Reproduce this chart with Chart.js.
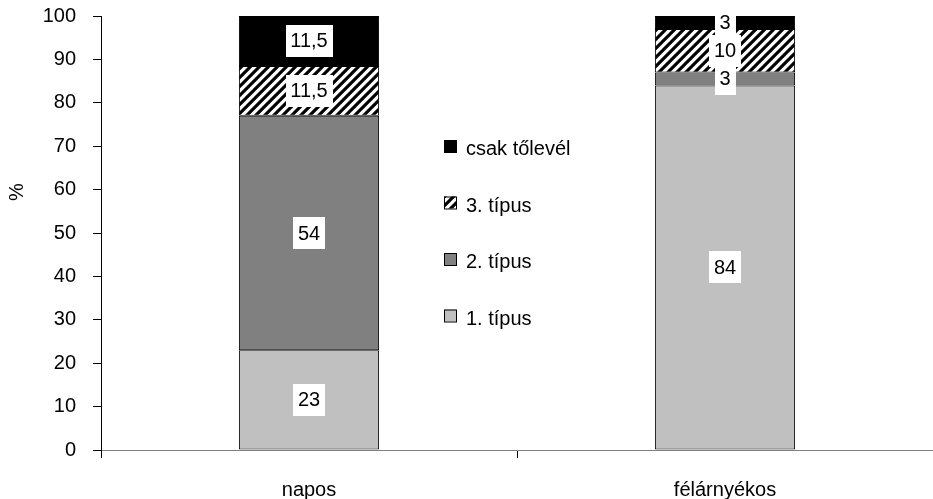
<!DOCTYPE html>
<html>
<head>
<meta charset="utf-8">
<script src="https://cdn.jsdelivr.net/npm/chart.js@4/dist/chart.umd.min.js"></script>
<style>
  html, body { margin: 0; padding: 0; background: #fff; }
</style>
</head>
<body>
<canvas id="chart" width="933" height="499"></canvas>
<script>
// Kategóriák és sorozatok (%)
const categories = ['napos', 'félárnyékos'];
const tipus1 = [23, 84];
const tipus2 = [54, 3];
const tipus3 = [11.5, 10];
const csakTolevel = [11.5, 3];
const yTicks = [0, 10, 20, 30, 40, 50, 60, 70, 80, 90, 100];

const FONT = "'Liberation Sans', Arial, sans-serif";
const FONT_SIZE = 20;

const canvas = document.getElementById('chart');

// Csíkozott (/) minta a 3. típushoz, élsimítással
function makeHatch(period) {
  const c = document.createElement('canvas');
  c.width = period;
  c.height = period;
  const cx = c.getContext('2d');
  const img = cx.createImageData(period, period);
  const ss = 4;
  for (let y = 0; y < period; y++) {
    for (let x = 0; x < period; x++) {
      let dark = 0;
      for (let sy = 0; sy < ss; sy++) {
        for (let sx = 0; sx < ss; sx++) {
          const u = x + (sx + 0.5) / ss;
          const v = y + (sy + 0.5) / ss;
          if (((u + v) % period) < period / 2) dark++;
        }
      }
      const val = 255 - Math.round(255 * dark / (ss * ss));
      const k = (y * period + x) * 4;
      img.data[k] = img.data[k + 1] = img.data[k + 2] = val;
      img.data[k + 3] = 255;
    }
  }
  cx.putImageData(img, 0, 0);
  return canvas.getContext('2d').createPattern(c, 'repeat');
}
const hatch = makeHatch(9);

// Fehér hátterű értékcímkék a szakaszok közepén
const segmentLabels = {
  id: 'segmentLabels',
  afterDatasetsDraw(chart) {
    const ctx = chart.ctx;
    ctx.save();
    ctx.font = FONT_SIZE + 'px ' + FONT;
    ctx.textAlign = 'center';
    ctx.textBaseline = 'middle';
    chart.data.datasets.forEach((ds, i) => {
      chart.getDatasetMeta(i).data.forEach((bar, j) => {
        const txt = String(ds.data[j]).replace('.', ',');
        const cy = (bar.y + bar.base) / 2;
        const w = Math.round(ctx.measureText(txt).width + 10);
        const h = 32;
        ctx.fillStyle = '#fff';
        ctx.fillRect(Math.round(bar.x - w / 2), Math.round(cy - h / 2), w, h);
        ctx.fillStyle = '#000';
        ctx.fillText(txt, bar.x, cy + 1);
      });
    });
    ctx.restore();
  }
};

// Jelmagyarázat a két oszlop között, fordított sorrendben
const innerLegend = {
  id: 'innerLegend',
  afterDraw(chart) {
    const ctx = chart.ctx;
    const items = chart.data.datasets.slice().reverse();
    ctx.save();
    ctx.font = FONT_SIZE + 'px ' + FONT;
    ctx.textAlign = 'left';
    ctx.textBaseline = 'alphabetic';
    items.forEach((ds, i) => {
      const top = 140 + i * 56.5;
      ctx.fillStyle = ds.backgroundColor;
      ctx.fillRect(444, top, 12, 12);
      ctx.strokeStyle = '#000';
      ctx.lineWidth = 1;
      ctx.strokeRect(444.5, top + 0.5, 12, 12);
      ctx.fillStyle = '#000';
      ctx.fillText(ds.label, 466, top + 15);
    });
    ctx.restore();
  }
};

// Függőleges tengely felirata
const yTitle = {
  id: 'yTitle',
  afterDraw(chart) {
    const ctx = chart.ctx;
    ctx.save();
    ctx.translate(17, 192);
    ctx.rotate(-Math.PI / 2);
    ctx.font = FONT_SIZE + 'px ' + FONT;
    ctx.textAlign = 'center';
    ctx.textBaseline = 'middle';
    ctx.fillStyle = '#000';
    ctx.fillText('%', 0, 0);
    ctx.restore();
  }
};

const barStyle = {
  borderColor: '#000',
  borderWidth: 1,
  borderSkipped: false,
  barPercentage: 1,
  categoryPercentage: 0.337
};

new Chart(canvas, {
  type: 'bar',
  data: {
    labels: categories,
    datasets: [
      Object.assign({ label: '1. típus', data: tipus1, backgroundColor: '#c0c0c0' }, barStyle),
      Object.assign({ label: '2. típus', data: tipus2, backgroundColor: '#808080' }, barStyle),
      Object.assign({ label: '3. típus', data: tipus3, backgroundColor: hatch }, barStyle),
      Object.assign({ label: 'csak tőlevél', data: csakTolevel, backgroundColor: '#000' }, barStyle)
    ]
  },
  options: {
    responsive: false,
    animation: false,
    layout: { padding: { top: 16, right: 0, bottom: 0, left: 0 } },
    plugins: {
      legend: { display: false },
      tooltip: { enabled: false }
    },
    scales: {
      x: {
        stacked: true,
        grid: { drawOnChartArea: false, drawTicks: true, tickLength: 8, color: '#000', offset: true },
        border: { color: '#808080', width: 1 },
        ticks: { font: { family: FONT, size: FONT_SIZE }, color: '#000', padding: 20 },
        afterFit(scale) { scale.height = 49; }
      },
      y: {
        stacked: true,
        min: 0,
        max: 100,
        afterBuildTicks(scale) { scale.ticks = yTicks.map(v => ({ value: v })); },
        ticks: { font: { family: FONT, size: FONT_SIZE }, color: '#000', padding: 17, autoSkip: false },
        grid: { drawOnChartArea: false, drawTicks: true, tickLength: 8, color: '#000' },
        border: { color: '#000', width: 1 },
        afterFit(scale) {
          scale.width = 101;
          scale.paddingTop = 0;
          scale.paddingBottom = 0;
        }
      }
    }
  },
  plugins: [segmentLabels, innerLegend, yTitle]
});
</script>
</body>
</html>
